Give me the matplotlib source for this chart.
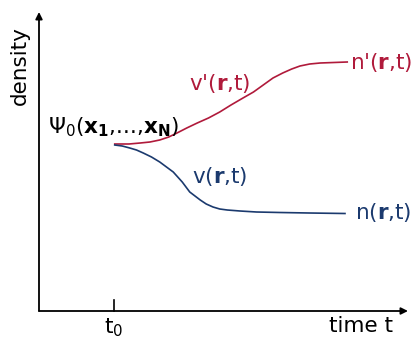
import matplotlib.pyplot as plt

# schematic units: t0 = 1, densities arbitrary
t_red = [1.01, 1.20, 1.35, 1.48, 1.61, 1.73, 1.84, 1.97, 2.11, 2.26, 2.41, 2.56, 2.72, 2.86, 2.99,
         3.12, 3.25, 3.37, 3.48, 3.61, 3.75, 3.93, 4.11]
n_red = [1.67, 1.67, 1.68, 1.69, 1.71, 1.74, 1.78, 1.83, 1.88, 1.93, 1.99, 2.06, 2.13, 2.19, 2.26,
         2.33, 2.38, 2.42, 2.45, 2.47, 2.48, 2.485, 2.49]
t_blue = [1.01, 1.11, 1.21, 1.30, 1.39, 1.50, 1.61, 1.70, 1.79, 1.85, 1.91, 1.96, 2.01, 2.08, 2.15,
          2.23, 2.32, 2.41, 2.51, 2.68, 2.90, 3.21, 3.60, 4.08]
n_blue = [1.66, 1.65, 1.63, 1.61, 1.58, 1.54, 1.49, 1.44, 1.39, 1.34, 1.29, 1.24, 1.19, 1.15, 1.11,
          1.07, 1.04, 1.02, 1.01, 1.00, 0.99, 0.985, 0.98, 0.975]
t0 = 1.0
t_end = 4.92
d_end = 2.99

RED = "#b01a3b"
BLUE = "#1b3a6e"

plt.rcParams['font.family'] = 'DejaVu Sans'
plt.rcParams['mathtext.fontset'] = 'dejavusans'
plt.rcParams['font.size'] = 15.5

fig = plt.figure(figsize=(4.16, 3.38), dpi=100)
ax = fig.add_axes([0, 0, 1, 1])
ax.set_xlim(-0.52, 5.027)
ax.set_ylim(-0.27, 3.11)
ax.axis('off')

# axes with arrows
ax.annotate("", xy=(t_end, 0), xytext=(0, 0),
            arrowprops=dict(arrowstyle='-|>', mutation_scale=10, lw=1.3, color='black', shrinkA=0, shrinkB=0))
ax.annotate("", xy=(0, d_end), xytext=(0, 0),
            arrowprops=dict(arrowstyle='-|>', mutation_scale=10, lw=1.3, color='black', shrinkA=0, shrinkB=0))
ax.plot([t0, t0], [0, 0.11], color='black', lw=1.2)

ax.plot(t_red, n_red, color=RED, lw=1.2, solid_joinstyle='round')
ax.plot(t_blue, n_blue, color=BLUE, lw=1.2, solid_joinstyle='round')

ax.text(t0, -0.05, "t$_0$", ha='center', va='top')
ax.text(4.72, -0.05, "time t", ha='right', va='top')
ax.text(-0.26, 2.45, "density", rotation=90, ha='center', va='center')
ax.text(0.12, 1.78, r"$\Psi_0$($\mathbf{x}_\mathbf{1}$,...,$\mathbf{x}_\mathbf{N}$)", ha='left', va='baseline')
ax.text(2.00, 2.28, r"v'($\mathbf{r}$,t)", color=RED, ha='left', va='center')
ax.text(2.04, 1.35, r"v($\mathbf{r}$,t)", color=BLUE, ha='left', va='center')
ax.text(4.15, 2.48, r"n'($\mathbf{r}$,t)", color=RED, ha='left', va='center')
ax.text(4.21, 0.99, r"n($\mathbf{r}$,t)", color=BLUE, ha='left', va='center')

fig.savefig("out.png", dpi=100)
